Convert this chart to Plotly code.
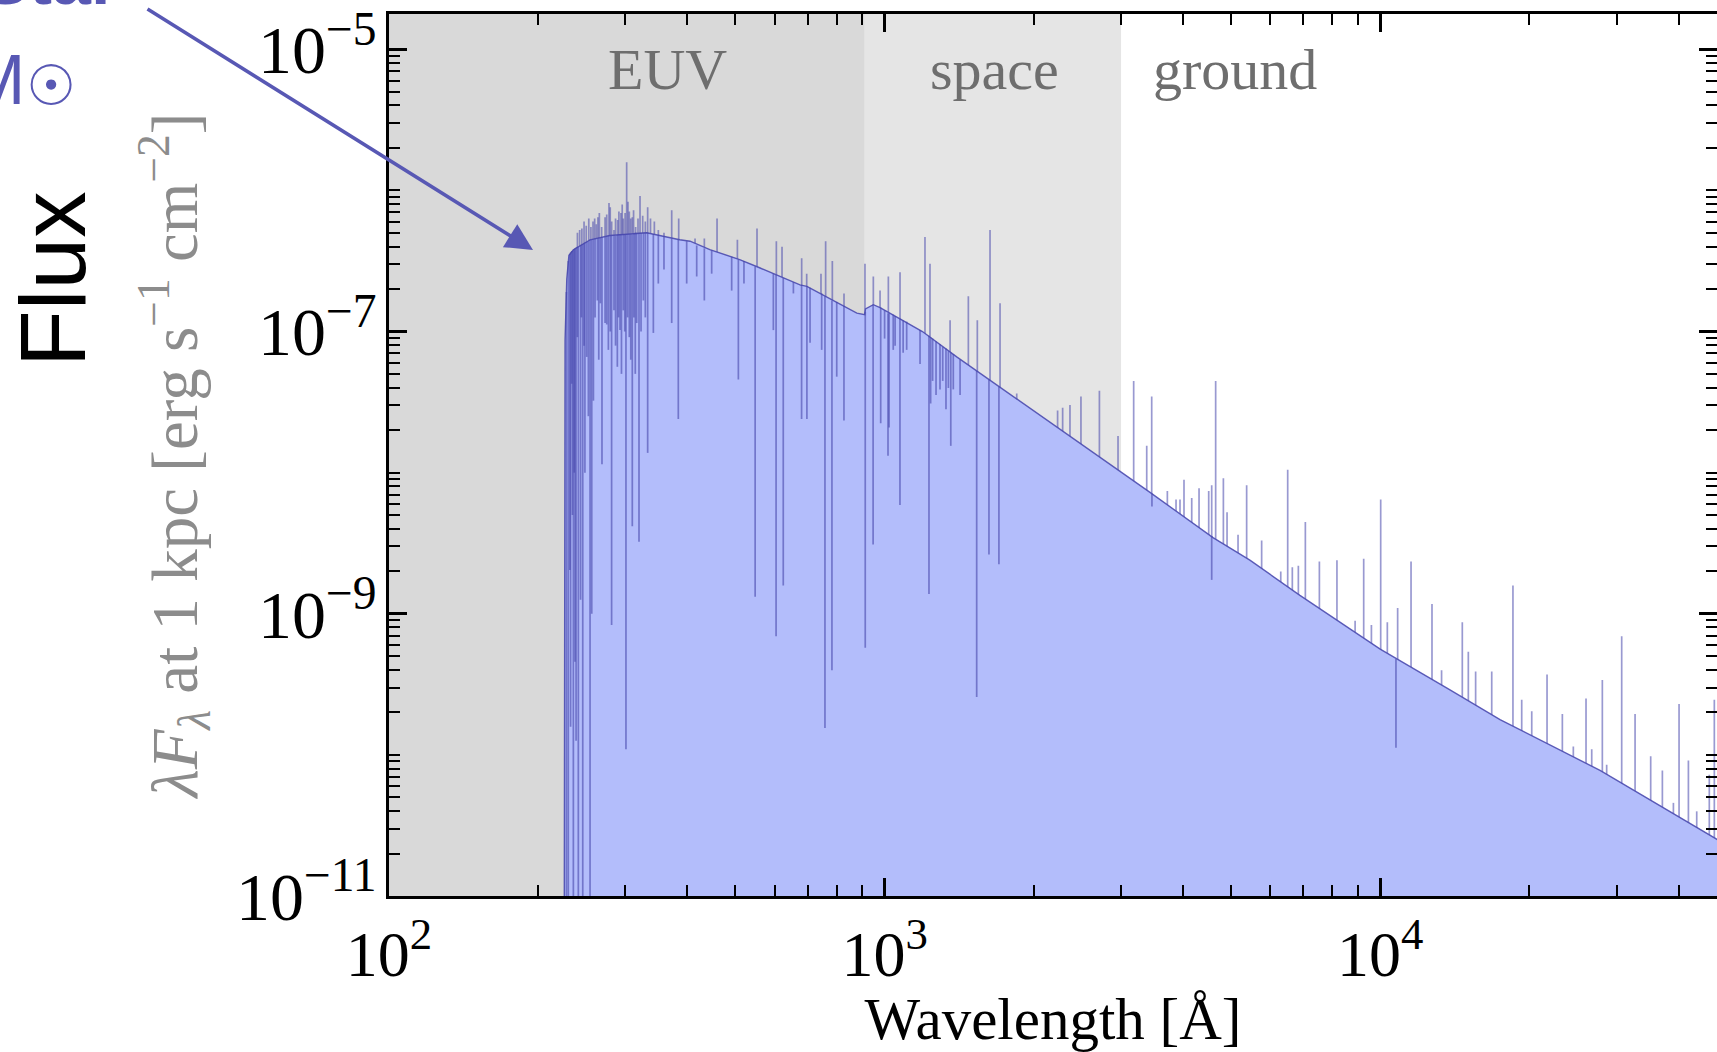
import numpy as np
import plotly.graph_objects as go

# ---------------- data ----------------
# continuum of the model spectrum: wavelength [Å], log10(lambda F_lambda)
CONT_WL = [225.6, 226.6, 228.4, 230.7, 235.6, 248.7, 254.5, 279, 331, 386, 405, 444, 510,
           561, 675, 697, 879, 912, 915, 949, 979, 1074, 1192, 1398, 1608, 2059, 2985,
           3432, 4599, 5458, 6887, 8690, 10000, 13830, 17450, 27770, 47900]
CONT_LOGF = [-12.0, -7.06, -6.63, -6.46, -6.42, -6.37, -6.35, -6.32, -6.30, -6.35, -6.36,
             -6.42, -6.49, -6.55, -6.67, -6.68, -6.87, -6.88, -6.84, -6.81, -6.83, -6.91,
             -7.00, -7.18, -7.33, -7.59, -7.99, -8.14, -8.46, -8.62, -8.87, -9.11, -9.25,
             -9.54, -9.75, -10.11, -10.60]

# emission lines: wavelength [Å], log10 flux at the tip
EM_WL = [240.0, 242.5, 245.0, 247.5, 250.0, 253.0, 255.5, 258.0, 260.0, 262.0, 264.0,
         265.7, 268.6, 272.9, 275.0, 277.9, 279.5, 281.4, 284.4, 286.5, 289.3, 291.0, 293.8,
         295.5, 297.0, 299.5, 301.7, 303.5, 305.4, 307.5, 309.7, 311.5, 314.5, 318.0, 321.0,
         325.0, 329.0, 332.6, 337.0, 343.1, 349.5, 358.8, 371.9, 384.2, 414.5, 432.8, 459.1,
         504.6, 552.8, 604.8, 620.9, 680.3, 696.3, 744.1, 760.4, 784.4, 828.1, 912.9, 949.0,
         979.0, 1017.6, 1074.3, 1206.4, 1234.8, 1355.6, 1475.7, 1538.5, 1632.0, 1709.7, 1847.6,
         2234, 2287, 2366, 2490, 2713, 2958, 3181, 3380, 3459, 3720, 3873, 3945, 4019, 4166,
         4310, 4508, 4571, 4656, 4826, 4909, 5166, 5377, 5765, 6300, 6507, 6648, 6837, 7063,
         7539, 8180, 8900, 9262, 9600, 10023, 10337, 10845, 11541, 12721, 13300, 14645,
         15060, 15580, 16790, 18530, 19300, 20220, 21710, 23310, 24530, 26020, 26720, 28070,
         28640, 30710, 32680, 35140, 37100, 39050, 40090, 41870, 43520, 46140, 47230]
EM_LOGF = [-6.30, -6.28, -6.27, -6.22, -6.25, -6.20, -6.26, -6.22, -6.20, -6.24, -6.19,
           -6.16, -6.26, -6.19, -6.17, -6.09, -6.12, -6.22, -6.28, -6.20, -6.21, -6.15, -6.16,
           -6.10, -6.20, -6.16, -5.80, -6.08, -6.15, -6.20, -6.19, -6.14, -6.26, -6.20, -6.04,
           -6.18, -6.22, -6.12, -6.20, -6.22, -6.28, -6.30, -6.14, -6.20, -6.34, -6.34, -6.20,
           -6.35, -6.27, -6.36, -6.40, -6.48, -6.59, -6.59, -6.36, -6.50, -6.73, -6.52, -6.61,
           -6.71, -6.61, -6.58, -6.33, -6.52, -6.92, -6.75, -6.92, -6.28, -6.80, -7.44,
           -7.56, -7.54, -7.52, -7.46, -7.42, -7.74, -7.35, -7.81, -7.46, -8.13, -8.19, -8.19,
           -8.05, -8.18, -8.11, -8.13, -8.09, -7.35, -8.04, -8.28, -8.44, -8.09, -8.48, -8.70,
           -7.98, -8.67, -8.66, -8.35, -8.63, -8.62, -9.05, -8.61, -9.08, -8.19, -9.06, -8.96,
           -8.63, -8.93, -9.40, -9.06, -9.27, -9.41, -9.41, -8.80, -9.61, -9.69, -9.43, -9.71,
           -9.94, -9.60, -9.96, -9.47, -10.07, -9.16, -9.71, -10.01, -10.11, -10.34, -9.64,
           -10.04, -10.40, -10.14, -9.61]

# absorption lines: wavelength [Å], log10 flux at the continuum and at the trough
AB_WL = [228.0, 230.0, 231.7, 232.5, 233.7, 234.5, 235.5, 236.5, 237.3, 238.5, 239.9, 241.0,
         243.5, 244.5, 246.0, 247.5, 248.5, 250.6, 252.5, 254.5, 256.5, 258.5, 260.5, 263.3,
         265.0, 267.0, 269.0, 272.9, 275.0, 277.1, 279.5, 281.3, 284.4, 286.5, 288.9, 290.5,
         292.5, 294.5, 297.0, 299.0, 300.7, 303.0, 305.4, 307.5, 309.7, 312.0, 314.0, 316.1,
         319.5, 322.5, 326.0, 329.0, 332.6, 341.5, 349.5, 358.8, 371.9, 383.5, 398.7, 417.7,
         432.8, 447.8, 491.4, 506.9, 520.3, 548.0, 596.4, 604.0, 624.5, 654.6, 680.0, 697.0,
         707.3, 746.5, 758.0, 783.0, 800.6, 828.0, 914.0, 948.0, 982.0, 1000.0, 1016.0,
         1021.0, 1041.0, 1050.0, 1074.0, 1090.0, 1108.0, 1179.0, 1229.0, 1238.5, 1250.0,
         1270.0, 1293.6, 1310.0, 1330.0, 1345.0, 1360.0, 1376.0, 1420.0, 1534.0, 1624.0,
         1701.0, 3463.0, 4571.0, 10760.0]
AB_BASE = [-6.72, -6.50, -6.45, -6.44, -6.43, -6.43, -6.42, -6.415, -6.41, -6.405, -6.40, -6.40,
           -6.39, -6.385, -6.38, -6.375, -6.37, -6.365, -6.36, -6.35, -6.35, -6.345, -6.34, -6.34,
           -6.335, -6.335, -6.33, -6.33, -6.325, -6.32, -6.32, -6.32, -6.32, -6.32, -6.315, -6.31,
           -6.31, -6.31, -6.31, -6.31, -6.31, -6.31, -6.31, -6.31, -6.31, -6.305, -6.30, -6.30,
           -6.30, -6.30, -6.30, -6.30, -6.30, -6.31, -6.315, -6.325, -6.34, -6.35, -6.36, -6.39,
           -6.41, -6.425, -6.47, -6.49, -6.50, -6.54, -6.59, -6.60, -6.62, -6.65, -6.67, -6.68,
           -6.69, -6.73, -6.75, -6.78, -6.79, -6.82, -6.86, -6.81, -6.83, -6.85, -6.87,
           -6.87, -6.88, -6.89, -6.91, -6.92, -6.93, -6.99, -7.03, -7.04, -7.05,
           -7.07, -7.09, -7.11, -7.12, -7.14, -7.15, -7.16, -7.20, -7.28, -7.34,
           -7.39, -8.15, -8.45, -9.32]
AB_TROUGH = [-11.5, -11.5, -8.69, -9.80, -7.37, -8.30, -11.5, -8.00, -9.34, -9.90, -7.04, -11.5,
             -8.90, -6.90, -11.5, -7.10, -8.00, -7.18, -7.60, -11.5, -9.00, -7.49, -6.90, -6.78,
             -7.20, -6.80, -7.94, -6.94, -6.95, -7.13, -7.00, -9.08, -6.85, -7.10, -7.25, -6.90,
             -6.99, -7.30, -6.85, -7.00, -9.96, -6.90, -7.04, -7.20, -8.38, -6.90, -7.30, -6.94,
             -8.49, -7.00, -6.78, -6.90, -7.86, -7.01, -6.66, -6.56, -6.94, -7.62, -6.66, -6.61,
             -6.78, -6.59, -6.71, -7.34, -6.66, -8.88, -6.99, -9.16, -8.80, -6.73, -7.62, -7.62,
             -7.08, -7.13, -9.81, -9.40, -7.32, -7.63, -9.24, -8.51, -7.65, -7.05, -7.88,
             -7.68, -7.13, -7.10, -8.23, -7.15, -7.13, -7.23, -8.86, -7.51, -7.35,
             -7.45, -7.41, -7.35, -7.55, -7.40, -7.81, -7.41, -7.45, -9.59, -8.58,
             -8.65, -8.24, -8.76, -9.95]

# shaded wavelength regimes [Å]: name, start, end, label position
BANDS = [("EUV", 100, 912, 365), ("space", 912, 3000, 1663), ("ground", 3000, None, 5093)]

X_TICKS = [100, 1000, 10000]
X_TICKTEXT = ["10<sup>2</sup>", "10<sup>3</sup>", "10<sup>4</sup>"]
Y_TICKS = [1e-11, 1e-9, 1e-7, 1e-5]
Y_TICKTEXT = ["10<sup>−11</sup>", "10<sup>−9</sup>", "10<sup>−7</sup>", "10<sup>−5</sup>"]

# ---------------- style ----------------
W, H = 1717, 1052
ML, MR, MT, MB = 389, 0, 14, 156
X_RANGE = [2.0, 4.6796]
Y_RANGE = [-11.0, -4.75]
Y_FLOOR = 1e-12
SERIF = "Liberation Serif, Times New Roman, serif"
SANS = "Liberation Sans, Arial, sans-serif"
BLUE = "#5858b4"
FILL = "rgb(179,189,251)"
LINE_EM = "rgba(70,70,172,0.55)"
LINE_AB = "rgba(70,70,172,0.6)"

fig = go.Figure()

# emission spikes (drawn first; the opaque fill hides the part below the continuum)
em_x, em_y = [], []
for wl, lf in zip(EM_WL, EM_LOGF):
    em_x += [wl, wl, None]
    em_y += [Y_FLOOR, 10 ** lf, None]
fig.add_trace(go.Scatter(x=em_x, y=em_y, mode="lines", line=dict(color=LINE_EM, width=1.7),
                         hoverinfo="skip", showlegend=False))

# baseline for the fill
fig.add_trace(go.Scatter(x=[CONT_WL[0], CONT_WL[-1]], y=[Y_FLOOR, Y_FLOOR], mode="lines",
                         line=dict(width=0, color="rgba(0,0,0,0)"), hoverinfo="skip",
                         showlegend=False))
# continuum with fill
fig.add_trace(go.Scatter(x=CONT_WL, y=[10 ** v for v in CONT_LOGF], mode="lines",
                         fill="tonexty", fillcolor=FILL,
                         line=dict(color="rgba(75,75,175,0.9)", width=1.4),
                         showlegend=False, name="spectrum"))

# absorption lines
ab_x, ab_y = [], []
for wl, b, t in zip(AB_WL, AB_BASE, AB_TROUGH):
    ab_x += [wl, wl, None]
    ab_y += [10 ** b, 10 ** t, None]
fig.add_trace(go.Scatter(x=ab_x, y=ab_y, mode="lines", line=dict(color=LINE_AB, width=1.7),
                         hoverinfo="skip", showlegend=False))

# background bands
band_colors = {"EUV": "rgb(217,217,217)", "space": "rgb(229,229,229)"}
shapes = []
for name, x0, x1, _ in BANDS:
    if name in band_colors:
        shapes.append(dict(type="rect", xref="x", yref="paper", x0=x0, x1=x1, y0=0, y1=1,
                           fillcolor=band_colors[name], line=dict(width=0), layer="below"))

pw = W - ML - MR
ph = H - MT - MB
def px(xp):
    return (xp - ML) / pw
def py(yp):
    return (H - MB - yp) / ph

annotations = []
for name, _, _, xc in BANDS:
    annotations.append(dict(x=np.log10(xc), y=py(69), xref="x", yref="paper", text=name,
                            showarrow=False, font=dict(family=SERIF, size=58, color="#6e6e6e"),
                            xanchor="center", yanchor="middle"))

annotations += [
    dict(x=px(53), y=py(279), xref="paper", yref="paper", text="Flux", textangle=-90,
         showarrow=False, font=dict(family=SANS, size=93, color="black"),
         xanchor="center", yanchor="middle"),
    dict(x=px(27), y=py(80), xref="paper", yref="paper", text="M", showarrow=False,
         font=dict(family=SANS, size=70, color=BLUE), xanchor="right", yanchor="middle"),
    dict(x=px(51), y=py(86), xref="paper", yref="paper", text="☉", showarrow=False,
         font=dict(family=SANS, size=56, color=BLUE), xanchor="center", yanchor="middle"),
    dict(x=px(120), y=py(21), xref="paper", yref="paper", text="<b>Star</b>", showarrow=False,
         font=dict(family=SANS, size=70, color=BLUE), xanchor="right", yanchor="bottom"),
    dict(x=px(533), y=py(250), xref="paper", yref="paper", text="", showarrow=True,
         ax=146 - 533, ay=8 - 250, arrowhead=2, arrowsize=1.5, arrowwidth=3.6,
         arrowcolor=BLUE, standoff=0),
]

x_minor = [k * 10 ** d for d in range(2, 5) for k in range(2, 10)]
y_minor = [k * 10.0 ** d for d in range(-11, -4) for k in range(1, 10)
           if not (k == 1 and d in (-11, -9, -7, -5))]

fig.update_layout(
    width=W, height=H,
    margin=dict(l=ML, r=MR, t=MT, b=MB, autoexpand=False),
    paper_bgcolor="white", plot_bgcolor="white",
    shapes=shapes, annotations=annotations, showlegend=False,
    xaxis=dict(type="log", range=X_RANGE, tickmode="array", tickvals=X_TICKS,
               ticktext=X_TICKTEXT, ticks="inside", ticklen=18, tickwidth=2.5,
               tickcolor="black", showline=True, linecolor="black", linewidth=2.5,
               mirror="ticks", showgrid=False, zeroline=False,
               tickfont=dict(family=SERIF, size=64, color="black"),
               ticklabelstandoff=0,
               minor=dict(tickmode="array", tickvals=x_minor, ticks="inside", ticklen=11,
                          tickwidth=2, tickcolor="black", showgrid=False),
               title=dict(text="Wavelength [Å]", font=dict(family=SERIF, size=59, color="black"),
                          standoff=2)),
    yaxis=dict(type="log", range=Y_RANGE, tickmode="array", tickvals=Y_TICKS,
               ticktext=Y_TICKTEXT, ticks="inside", ticklen=18, tickwidth=2.5,
               tickcolor="black", showline=True, linecolor="black", linewidth=2.5,
               mirror="ticks", showgrid=False, zeroline=False,
               tickfont=dict(family=SERIF, size=68, color="black"),
               ticklabelstandoff=-4,
               minor=dict(tickmode="array", tickvals=y_minor, ticks="inside", ticklen=11,
                          tickwidth=2, tickcolor="black", showgrid=False),
               title=dict(text="<i>λF</i><sub><i>λ</i></sub> at 1 kpc [erg s<sup>−1</sup> cm<sup>−2</sup>]",
                          font=dict(family=SERIF, size=65, color="#8c8c8c"), standoff=18)),
)

fig.write_html("out.html")
